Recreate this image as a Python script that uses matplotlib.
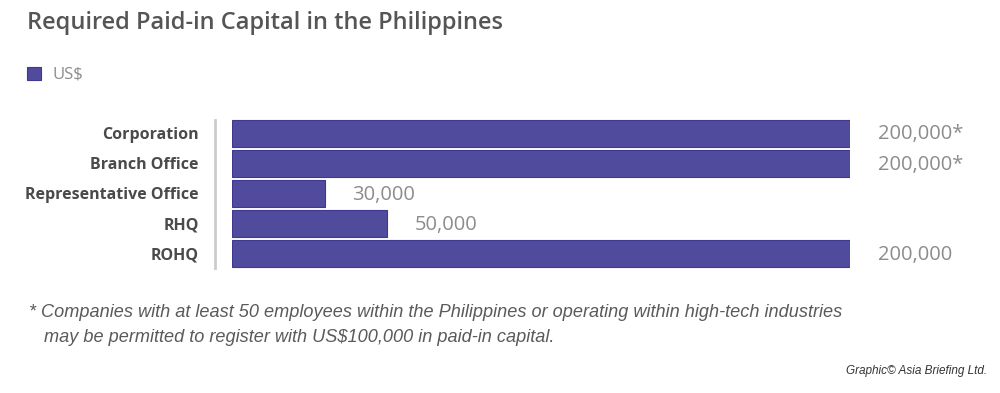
import matplotlib
matplotlib.use("Agg")
import matplotlib.pyplot as plt
from matplotlib.patches import Rectangle
from matplotlib.lines import Line2D

categories = ["Corporation", "Branch Office", "Representative Office", "RHQ", "ROHQ"]
values = [200000, 200000, 30000, 50000, 200000]
value_labels = ["200,000*", "200,000*", "30,000", "50,000", "200,000"]
legend_label = "US$"
title = "Required Paid-in Capital in the Philippines"
footnote = ("* Companies with at least 50 employees within the Philippines or operating within high-tech industries\n"
            "   may be permitted to register with US$100,000 in paid-in capital.")
credit = "Graphic\u00a9 Asia Briefing Ltd."

BAR = "#514b9e"
EDGE = "#3f3890"
W, H = 1000, 393
fig = plt.figure(figsize=(W / 100, H / 100), dpi=100)
fig.patch.set_facecolor("white")

# axes: x from 232 to 850 px, y from 118 to 269 px
ax = fig.add_axes([232 / W, 1 - 269 / H, (850 - 232) / W, (269 - 118) / H])
y = list(range(len(categories)))
ax.barh(y, values, height=0.9, color=BAR, edgecolor=EDGE, linewidth=0.8)
ax.set_xlim(0, 200000)
ax.set_ylim(len(categories) - 0.5, -0.5)
for s in ax.spines.values():
    s.set_visible(False)
ax.set_xticks([])
ax.set_yticks(y)
ax.set_yticklabels(categories, fontsize=11.5, fontweight="bold", color="#4a4a4a", family="Open Sans")
ax.tick_params(axis="y", length=0, pad=24)

for yi, v, lab in zip(y, values, value_labels):
    ax.annotate(lab, xy=(v, yi), xytext=(20, -1), textcoords="offset points",
                va="center", ha="left", fontsize=14.5, color="#8c8c8c", family="Open Sans")

# grey separator line
fig.add_artist(Line2D([215 / W, 215 / W], [1 - 120 / H, 1 - 268 / H], color="#cccccc", lw=2))

# title
fig.text(27 / W, 1 - 23 / H, title, fontsize=17, fontweight="semibold", color="#555555",
         family="Open Sans", va="center", ha="left")

# legend
fig.add_artist(Rectangle((27 / W, 1 - 80 / H), 14 / W, 13 / H, facecolor=BAR, edgecolor=EDGE, lw=0.8,
                         transform=fig.transFigure))
fig.text(52 / W, 1 - 74 / H, legend_label, fontsize=12, color="#8c8c8c", family="Open Sans",
         va="center", ha="left")

# footnote
fig.text(29 / W, 1 - 325 / H, footnote, fontsize=13.1, style="italic", color="#5a5a5a",
         family=["Liberation Sans Narrow", "Liberation Sans"], va="center", ha="left", linespacing=1.6)

fig.text(987 / W, 1 - 371 / H, credit, fontsize=8.5, style="italic", color="#333333",
         family=["Liberation Sans Narrow", "Liberation Sans"], va="center", ha="right")

fig.savefig("out.png", dpi=100, facecolor="white")
